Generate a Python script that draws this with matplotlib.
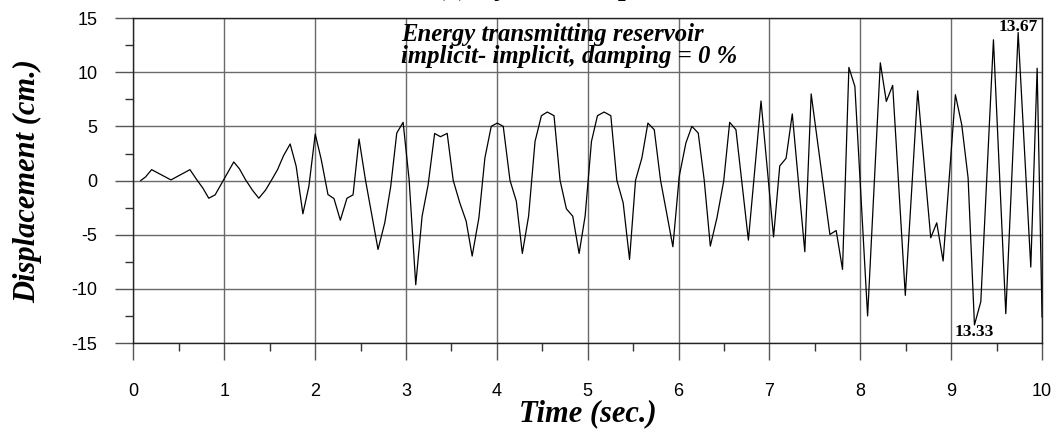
import numpy as np
import matplotlib
matplotlib.use("Agg")
import matplotlib.pyplot as plt
from matplotlib.ticker import MultipleLocator

plt.rcParams["axes.unicode_minus"] = False

# time (sec.) and displacement (cm.)
time_s = [
    0.08, 0.134, 0.20, 0.413, 0.622, 0.696, 0.763, 0.829, 0.899,
    1.104, 1.167, 1.233, 1.310, 1.380, 1.453, 1.523, 1.586, 1.652, 1.725,
    1.791, 1.865, 1.931, 2.001, 2.067, 2.141, 2.207, 2.277, 2.350, 2.417,
    2.483, 2.553, 2.626, 2.692, 2.766, 2.832, 2.898, 2.968, 3.034, 3.107,
    3.177, 3.243, 3.315, 3.379, 3.453, 3.519, 3.592, 3.662, 3.728, 3.802,
    3.868, 3.938, 4.004, 4.070, 4.144, 4.214, 4.280, 4.349, 4.420, 4.490,
    4.555, 4.629, 4.695, 4.765, 4.835, 4.905, 4.971, 5.041, 5.107, 5.180,
    5.254, 5.320, 5.390, 5.460, 5.526, 5.596, 5.662, 5.732, 5.801, 5.868,
    5.937, 6.007, 6.080, 6.146, 6.216, 6.282, 6.349, 6.422, 6.496, 6.562,
    6.631, 6.768, 6.907, 7.045, 7.113, 7.183, 7.251, 7.389, 7.459, 7.665,
    7.734, 7.804, 7.874, 7.940, 8.080, 8.220, 8.286, 8.356, 8.495, 8.631,
    8.775, 8.841, 8.911, 9.046, 9.116, 9.186, 9.256, 9.326, 9.465, 9.601,
    9.737, 9.876, 9.946, 10.0,
]
disp_cm = [
    0.0, 0.34, 1.01, 0.06, 1.01, 0.09, -0.68, -1.63, -1.32,
    1.72, 1.08, 0.09, -0.89, -1.63, -0.89, 0.09, 1.01, 2.30, 3.38,
    1.32, -3.07, -0.52, 4.30, 1.94, -1.29, -1.66, -3.66, -1.63, -1.32,
    3.84, 0.09, -3.29, -6.36, -3.90, -0.52, 4.39, 5.38, 0.09, -9.62,
    -3.29, -0.40, 4.35, 4.05, 4.36, 0.03, -2.06, -3.75, -6.97, -3.44,
    2.09, 5.01, 5.31, 5.01, 0.03, -1.90, -6.73, -3.29, 3.62, 5.99,
    6.33, 5.99, 0.03, -2.61, -3.29, -6.73, -3.29, 3.62, 5.99, 6.33,
    5.99, 0.03, -2.06, -7.28, 0.03, 2.09, 5.31, 4.70, 0.03, -2.98,
    -6.11, 0.40, 3.47, 5.01, 4.39, 0.03, -6.05, -3.44, -0.06, 5.38,
    4.70, -5.50, 7.35, -5.20, 1.35, 2.06, 6.16, -6.57, 8.00, -4.98,
    -4.61, -8.20, 10.45, 8.69, -12.50, 10.88, 7.31, 8.79, -10.60, 8.29,
    -5.28, -3.90, -7.43, 7.93, 5.16, 0.25, -13.33, -11.18, 13.00, -12.29,
    13.67, -7.99, 10.38, -12.60,
]

x_ticks = np.arange(0, 11, 1)
y_ticks = np.arange(-15, 16, 5)

serif_bi = dict(family="Liberation Serif", weight="bold", style="italic")
sans = "Liberation Sans"

fig = plt.figure(figsize=(10.59, 4.32), dpi=100)
ax = fig.add_axes([0.126, 0.206, 0.858, 0.752])

ax.plot(time_s, disp_cm, color="black", linewidth=0.9, zorder=3)

ax.set_xlim(0, 10)
ax.set_ylim(-15, 15)
ax.set_xticks(x_ticks)
ax.set_yticks(y_ticks)
ax.xaxis.set_minor_locator(MultipleLocator(0.5))
ax.yaxis.set_minor_locator(MultipleLocator(2.5))
ax.grid(True, which="major", color="#6a6a6a", linewidth=1.0)

ax.tick_params(which="major", direction="out", length=13, width=1.0,
               color="#555555", labelsize=13, pad=13)
ax.tick_params(axis="x", which="major", length=12, pad=17)
ax.tick_params(which="minor", direction="out", length=6, width=1.0,
               color="#333333")
for lbl in ax.get_xticklabels() + ax.get_yticklabels():
    lbl.set_fontfamily(sans)

for side in ["left", "bottom", "top", "right"]:
    ax.spines[side].set_color("#222222")
    ax.spines[side].set_linewidth(1.0)

ax.set_xlabel("Time (sec.)", fontsize=22, va="center", **serif_bi)
ax.xaxis.set_label_coords(0.5, -0.217)
ax.set_ylabel("Displacement (cm.)", fontsize=22, va="center", **serif_bi)
ax.yaxis.set_label_coords(-0.116, 0.5)

ax.text(0.295, 0.985,
        "Energy transmitting reservoir\nimplicit- implicit, damping = 0 %",
        transform=ax.transAxes, ha="left", va="top", fontsize=17.8,
        linespacing=0.96, **serif_bi)

ax.annotate("13.67", xy=(9.737, 13.67), xytext=(0, 1),
            textcoords="offset points", ha="center", va="baseline",
            fontsize=12.5, family="Liberation Serif", weight="bold")
ax.annotate("13.33", xy=(9.256, -13.33), xytext=(0, 1),
            textcoords="offset points", ha="center", va="top",
            fontsize=12.5, family="Liberation Serif", weight="bold")

# title sits mostly above the visible canvas, only descenders show
fig.text(0.555, 1.0 + 5.0 / 432, "(a) Dynamic displacement",
         ha="center", va="baseline", fontsize=20, **serif_bi)

fig.savefig("out.png", dpi=100)
